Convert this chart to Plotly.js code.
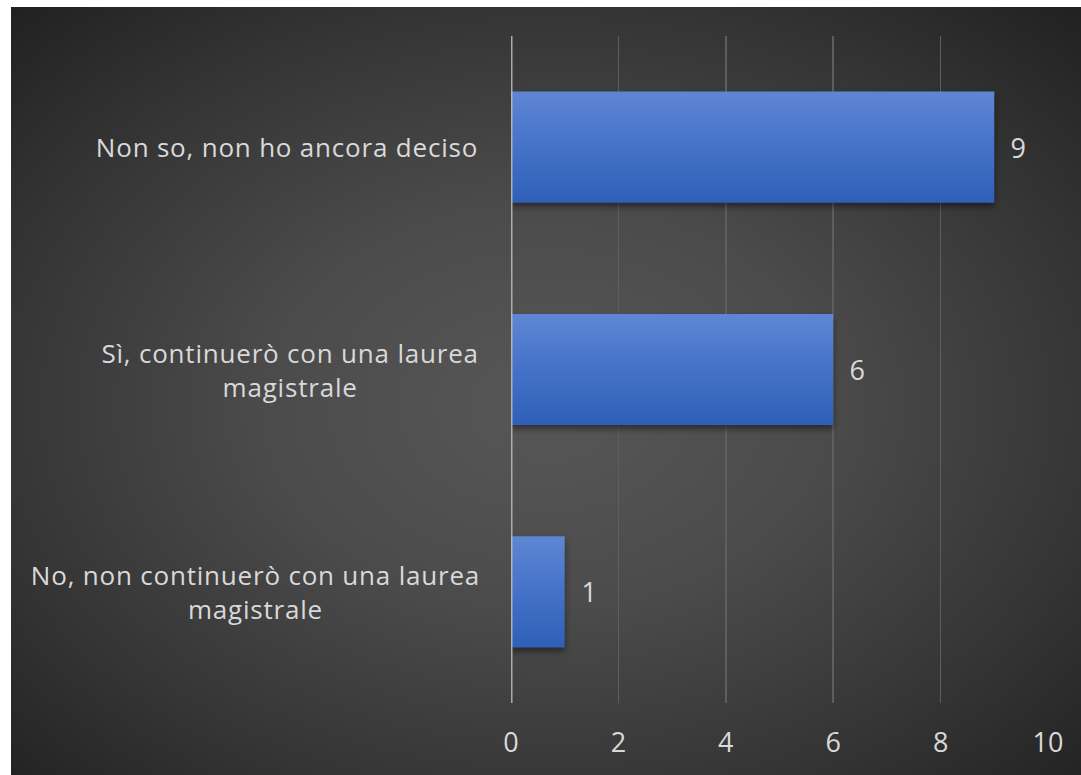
<!DOCTYPE html>
<html>
<head>
<meta charset="utf-8">
<script src="https://cdn.plot.ly/plotly-3.0.1.min.js"></script>
<style>
  html, body { margin: 0; padding: 0; background: #ffffff; }
  #wrap {
    position: absolute; left: 11px; top: 7px; width: 1070px; height: 768px;
    background: radial-gradient(ellipse 75% 75% at 50% 52%, #575757 0%, #4b4b4b 35%, #343434 70%, #1e1e1e 100%);
  }
  #chart { width: 1070px; height: 768px; }
  #chart .annotation-text { letter-spacing: 0.8px; }
  #chart .bars .point path { filter: drop-shadow(0px 4px 3px rgba(0,0,0,0.45)); }
</style>
</head>
<body>
<div id="wrap"><div id="chart"></div></div>
<script>
const categories = [
  "No, non continuerò con una laurea<br>magistrale",
  "Sì, continuerò con una laurea<br>magistrale",
  "Non so, non ho ancora deciso"
];
const values = [1, 6, 9];
const tickValues = [0, 2, 4, 6, 8, 10];

const fontFam = "'Open Sans', Lato, sans-serif";
const textColor = "#d9d9d9";

const trace = {
  type: "bar",
  orientation: "h",
  y: categories,
  x: values,
  marker: { color: "#416fc6", line: { width: 0 } },
  hoverinfo: "none"
};

const labelAnnots = categories.map((c) => ({
  xref: "paper", yref: "y", x: 0, y: c, text: c,
  xanchor: "right", yanchor: "middle", align: "center", xshift: -42,
  showarrow: false, font: { family: fontFam, size: 26, color: textColor }
}));
const valueAnnots = values.map((v, i) => ({
  xref: "x", yref: "y", x: v, y: categories[i], text: String(v),
  xanchor: "left", yanchor: "middle", xshift: 15,
  showarrow: false, font: { family: fontFam, size: 27, color: textColor }
}));

const layout = {
  width: 1070, height: 768,
  paper_bgcolor: "rgba(0,0,0,0)",
  plot_bgcolor: "rgba(0,0,0,0)",
  margin: { l: 500, r: 33, t: 29, b: 72 },
  bargap: 0.5,
  showlegend: false,
  font: { family: fontFam, color: textColor },
  xaxis: {
    range: [0, 10], tickvals: tickValues, ticktext: tickValues.map(String),
    showgrid: true, gridcolor: "#5e5e5e", gridwidth: 1.5,
    zeroline: false, showline: false, ticks: "",
    tickfont: { family: fontFam, size: 27, color: textColor },
    ticklabelstandoff: 21, fixedrange: true
  },
  yaxis: {
    type: "category", categoryorder: "array", categoryarray: categories,
    showticklabels: false, showgrid: false, zeroline: false,
    showline: false, ticks: "", fixedrange: true
  },
  shapes: [{
    type: "line", xref: "x", yref: "paper", x0: 0, x1: 0, y0: 0, y1: 1,
    line: { color: "rgba(190,190,190,0.85)", width: 3 }, layer: "above"
  }],
  annotations: labelAnnots.concat(valueAnnots)
};

Plotly.newPlot("chart", [trace], layout, { displayModeBar: false, staticPlot: true }).then(function (gd) {
  const svg = gd.querySelector("svg.main-svg");
  const ns = "http://www.w3.org/2000/svg";
  let defs = svg.querySelector("defs");
  if (!defs) { defs = document.createElementNS(ns, "defs"); svg.insertBefore(defs, svg.firstChild); }
  const grad = document.createElementNS(ns, "linearGradient");
  grad.setAttribute("id", "barGrad");
  grad.setAttribute("x1", "0"); grad.setAttribute("y1", "0");
  grad.setAttribute("x2", "0"); grad.setAttribute("y2", "1");
  [["0", "#5f86d3"], ["0.5", "#4472c8"], ["1", "#2f5fb7"]].forEach(function (s) {
    const st = document.createElementNS(ns, "stop");
    st.setAttribute("offset", s[0]); st.setAttribute("stop-color", s[1]);
    grad.appendChild(st);
  });
  defs.appendChild(grad);
  gd.querySelectorAll(".bars .point path").forEach(function (p) {
    p.style.fill = "url(#barGrad)";
  });
});
</script>
</body>
</html>
